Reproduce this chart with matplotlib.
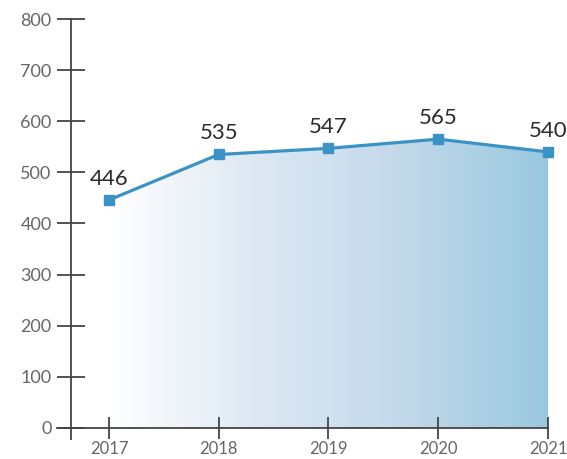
import numpy as np
import matplotlib.pyplot as plt
from matplotlib.colors import LinearSegmentedColormap
from matplotlib.patches import Polygon

years = [2017, 2018, 2019, 2020, 2021]
values = [446, 535, 547, 565, 540]
yticks = [0, 100, 200, 300, 400, 500, 600, 700, 800]

line_col = '#3a93c4'
axis_col = '#444444'
tick_txt = '#666666'

plt.rcParams['font.family'] = ['Lato', 'DejaVu Sans']

fig = plt.figure(figsize=(5.67, 4.59), dpi=100)
ax = fig.add_axes([0.1005, 0.0436, 0.8660, 0.9150])

x0 = years[0] - 52 / 109.75
ax.set_xlim(x0, years[-1])
ax.set_ylim(-21.5, 800)

# gradient area under the line
grad = LinearSegmentedColormap.from_list('g', ['#ffffff', '#dde8f3', '#c3d9ea', '#98c8df'])
img = ax.imshow(np.linspace(0, 1, 256).reshape(1, -1), cmap=grad, aspect='auto',
                extent=[years[0], years[-1], 0, 800], zorder=1)
poly = Polygon(list(zip(years, values)) + [(years[-1], 0), (years[0], 0)],
               closed=True, facecolor='none', edgecolor='none')
ax.add_patch(poly)
img.set_clip_path(poly)

ax.plot(years, values, color=line_col, lw=2.3, marker='s', ms=6.5, zorder=3, clip_on=False)

for x, v in zip(years, values):
    ax.annotate(str(v), (x, v), xytext=(0, 8), textcoords='offset points',
                ha='center', va='bottom', fontsize=16, color='#2b2b2b', zorder=4)

for s in ['top', 'right']:
    ax.spines[s].set_visible(False)
ax.spines['left'].set_position(('data', years[0] - 38 / 109.75))
ax.spines['bottom'].set_position(('data', 0))
for s in ['left', 'bottom']:
    ax.spines[s].set_color(axis_col)
    ax.spines[s].set_linewidth(1.3)

ax.set_yticks(yticks)
ax.set_yticklabels([str(t) for t in yticks])
ax.set_xticks(years)
ax.set_xticklabels([str(y) for y in years])

ax.tick_params(axis='y', direction='inout', length=20, width=1.3, color=axis_col,
               labelsize=13, labelcolor=tick_txt, pad=4)
ax.tick_params(axis='x', direction='inout', length=16.5, width=1.3, color=axis_col,
               labelsize=12, labelcolor=tick_txt, pad=1)

fig.savefig('out.png', dpi=100)
